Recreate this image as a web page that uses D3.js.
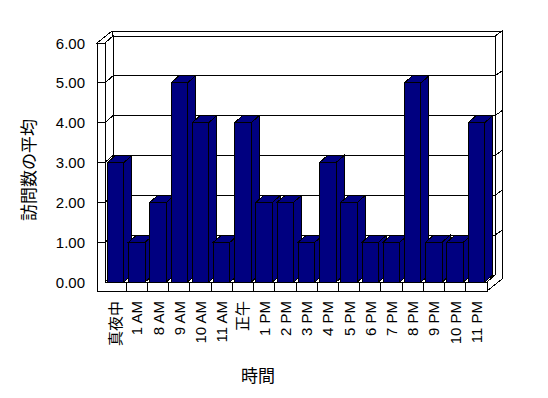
<!DOCTYPE html>
<html>
<meta charset="utf-8">
<head>
    <script src="https://d3js.org/d3.v7.min.js"></script>
    <style>
        body { margin: 0; background: #fff; }
        text { font-family: "Liberation Sans", "Noto Sans CJK JP", sans-serif; fill: #000; }
    </style>
</head>
<body>
    <div id="chart"></div>
<script>
    // data
    const hours = ["真夜中", "1 AM", "8 AM", "9 AM", "10 AM", "11 AM", "正午", "1 PM", "2 PM",
                   "3 PM", "4 PM", "5 PM", "6 PM", "7 PM", "8 PM", "9 PM", "10 PM", "11 PM"];
    const visits = [3, 1, 2, 5, 4, 1, 4, 2, 2, 1, 3, 2, 1, 1, 5, 1, 1, 4];
    const yTicks = [0, 1, 2, 3, 4, 5, 6];
    const yTitle = "訪問数の平均";
    const xTitle = "時間";

    const W = 548, H = 398;
    const left = 105, right = 487;   // front plane of the plot
    const dx = 8, dy = -7;           // depth of the plot
    const tx = 8, ty = 9;            // wall / floor thickness
    const wx = 7, wy = -5;           // back wall thickness (depth)

    const x = d3.scaleBand().domain(hours).range([left, right])
        .paddingInner(0.22).paddingOuter(0.11);
    const y = d3.scaleLinear().domain([0, 6]).range([282, 43]);
    const y0 = y(0), y6 = y(6);

    const svg = d3.select("#chart").append("svg")
        .attr("width", W).attr("height", H)
        .attr("shape-rendering", "crispEdges");

    const poly = pts => d3.line()(pts) + "Z";
    const face = (pts, fill) => svg.append("path").attr("d", poly(pts))
        .attr("fill", fill || "#fff").attr("stroke", "#000");
    const seg = (a, b) => svg.append("line")
        .attr("x1", a[0]).attr("y1", a[1]).attr("x2", b[0]).attr("y2", b[1])
        .attr("stroke", "#000");

    const inner = yTicks.slice(1, -1);

    // back wall
    face([[left + dx, y6 + dy], [right + dx, y6 + dy], [right + dx + wx, y6 + dy + wy], [left - tx + dx + wx, y6 + dy + wy]]);
    face([[left + dx, y6 + dy], [right + dx, y6 + dy], [right + dx, y0 + dy], [left + dx, y0 + dy]]);
    face([[right, y0], [right + dx, y0 + dy], [right + dx, y6 + dy], [right + dx + wx, y6 + dy + wy],
          [right + dx + wx, y0 + ty + dy + wy], [right, y0 + ty]]);
    inner.forEach(v => {
        seg([left + dx, y(v) + dy], [right + dx, y(v) + dy]);
        seg([right + dx, y(v) + dy], [right + dx + wx, y(v) + dy + wy]);
    });

    // floor top
    face([[left, y0], [right, y0], [right + dx, y0 + dy], [left + dx, y0 + dy]]);

    // left wall
    face([[left, y6], [left + dx, y6 + dy], [left + dx, y0 + dy], [left, y0]]);
    inner.forEach(v => seg([left, y(v)], [left + dx, y(v) + dy]));
    face([[left - tx, y6], [left, y6], [left + dx, y6 + dy], [left - tx + dx + wx, y6 + dy + wy]]);

    // front faces of wall and floor
    face([[left - tx, y6], [left, y6], [left, y0], [right, y0], [right, y0 + ty], [left - tx, y0 + ty]]);
    inner.forEach(v => seg([left - tx, y(v)], [left, y(v)]));
    hours.slice(1).forEach(h => {
        const bx = x(h) - x.step() * x.paddingInner() / 2;
        seg([bx, y0], [bx, y0 + ty]);
    });

    // bars
    const bw = x.bandwidth();
    hours.forEach((h, i) => {
        const bx = x(h), by = y(visits[i]);
        face([[bx, by], [bx + bw, by], [bx + bw, y0], [bx, y0]], "#000080");
        face([[bx, by], [bx + bw, by], [bx + bw + dx, by + dy], [bx + dx, by + dy]], "#000080");
        face([[bx + bw, by], [bx + bw + dx, by + dy], [bx + bw + dx, y0 + dy], [bx + bw, y0]], "#000080");
    });

    // y tick labels
    svg.append("g").selectAll("text")
        .data(yTicks)
        .join("text")
            .attr("x", 85)
            .attr("y", d => y(d))
            .attr("text-anchor", "end")
            .attr("dominant-baseline", "central")
            .style("font-size", "15px")
            .text(d => d.toFixed(2));

    // x tick labels
    svg.append("g").selectAll("text")
        .data(hours)
        .join("text")
            .attr("transform", d => `translate(${x(d) + bw / 2},301)rotate(-90)`)
            .attr("text-anchor", "end")
            .attr("dominant-baseline", "central")
            .style("font-size", "15px")
            .text(d => d);

    // titles
    svg.append("text")
        .attr("transform", "translate(29,170)rotate(-90)")
        .attr("text-anchor", "middle")
        .attr("dominant-baseline", "central")
        .style("font-size", "17px")
        .text(yTitle);

    svg.append("text")
        .attr("x", 258).attr("y", 376)
        .attr("text-anchor", "middle")
        .attr("dominant-baseline", "central")
        .style("font-size", "17px")
        .text(xTitle);
</script>
</body>
</html>
